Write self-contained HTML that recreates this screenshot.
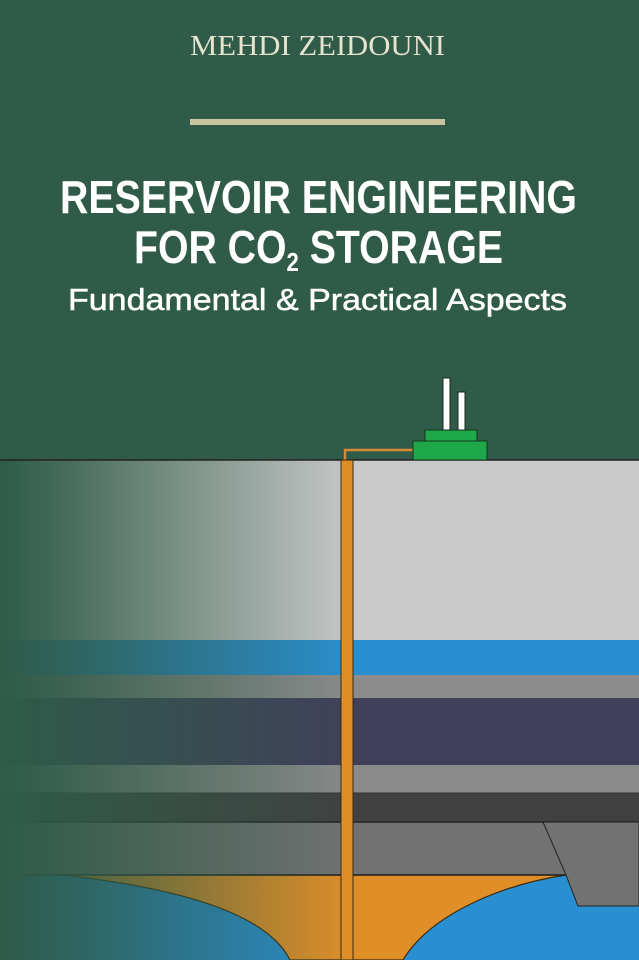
<!DOCTYPE html>
<html><head><meta charset="utf-8"><style>
html,body{margin:0;padding:0;width:639px;height:960px;overflow:hidden;background:#2f5b48}
svg{display:block}
</style></head><body>
<svg width="639" height="960" viewBox="0 0 639 960" xmlns="http://www.w3.org/2000/svg">
<defs>
<linearGradient id="fade" x1="0" y1="0" x2="1" y2="0">
<stop offset="0" stop-color="#2f5b48" stop-opacity="1"/>
<stop offset="0.1" stop-color="#2f5b48" stop-opacity="0.85"/>
<stop offset="0.56" stop-color="#2f5b48" stop-opacity="0"/>
</linearGradient>
</defs>
<rect x="0" y="0" width="639" height="460" fill="#2f5b48"/>
<text x="190" y="55" textLength="255" lengthAdjust="spacingAndGlyphs" font-family="Liberation Serif, serif" font-size="29" fill="#e6e3cf">MEHDI ZEIDOUNI</text>
<rect x="190" y="119" width="255" height="6" fill="#c9c4a0"/>
<text x="60" y="213" textLength="517" lengthAdjust="spacingAndGlyphs" font-family="Liberation Sans, sans-serif" font-weight="bold" font-size="46" fill="#fff">RESERVOIR ENGINEERING</text>
<text x="134" y="263" textLength="369" lengthAdjust="spacingAndGlyphs" font-family="Liberation Sans, sans-serif" font-weight="bold" font-size="46" fill="#fff">FOR CO<tspan font-size="26" dy="8">2</tspan><tspan dy="-8"> STORAGE</tspan></text>
<text x="68" y="310" textLength="499" lengthAdjust="spacingAndGlyphs" font-family="Liberation Sans, sans-serif" font-size="31" fill="#fff" stroke="#fff" stroke-width="0.5">Fundamental &amp; Practical Aspects</text>
<!-- layers -->
<rect x="0" y="460" width="639" height="180" fill="#c9c9c9"/>
<rect x="0" y="640" width="639" height="35" fill="#2a8fd0"/>
<rect x="0" y="675" width="639" height="23" fill="#8c8c8c"/>
<rect x="0" y="698" width="639" height="67" fill="#40405a"/>
<rect x="0" y="765" width="639" height="28" fill="#8a8a8a"/>
<rect x="0" y="793" width="639" height="29" fill="#414141"/>
<rect x="0" y="822" width="639" height="53" fill="#727272"/>
<rect x="0" y="875" width="639" height="85" fill="#2a8fd0"/>
<path d="M61 875 C200 890 270 920 290 960 L403 960 C430 915 500 885 566 875 Z" fill="#e08f28" stroke="#3a2a10" stroke-width="1.2"/>
<line x1="0" y1="875" x2="566" y2="875" stroke="#222" stroke-width="1.5"/>
<line x1="0" y1="822" x2="639" y2="822" stroke="#222" stroke-width="1.5"/>
<line x1="0" y1="793" x2="639" y2="793" stroke="#333" stroke-width="1"/>
<path d="M543 822 L639 822 L639 906 L578 906 L566 875 Z" fill="#727272" stroke="#222" stroke-width="1"/>
<rect x="0" y="460" width="639" height="500" fill="url(#fade)"/>
<line x1="0" y1="460" x2="639" y2="460" stroke="#222" stroke-width="1.5"/>
<!-- well -->
<path d="M345 460 L345 450 L413 450" fill="none" stroke="#d68a3a" stroke-width="2.5"/>
<rect x="341" y="460" width="12" height="500" fill="#df8f28" stroke="#3a2a10" stroke-width="1"/>
<rect x="413" y="441" width="74" height="19" fill="#1fa84a" stroke="#103a1a" stroke-width="1"/>
<rect x="425" y="430" width="52" height="11" fill="#1fa84a" stroke="#103a1a" stroke-width="1"/>
<rect x="443" y="378" width="7" height="52" fill="#fff" stroke="#1a2a20" stroke-width="1"/>
<rect x="458" y="392" width="7" height="38" fill="#fff" stroke="#1a2a20" stroke-width="1"/>
</svg>
</body></html>
